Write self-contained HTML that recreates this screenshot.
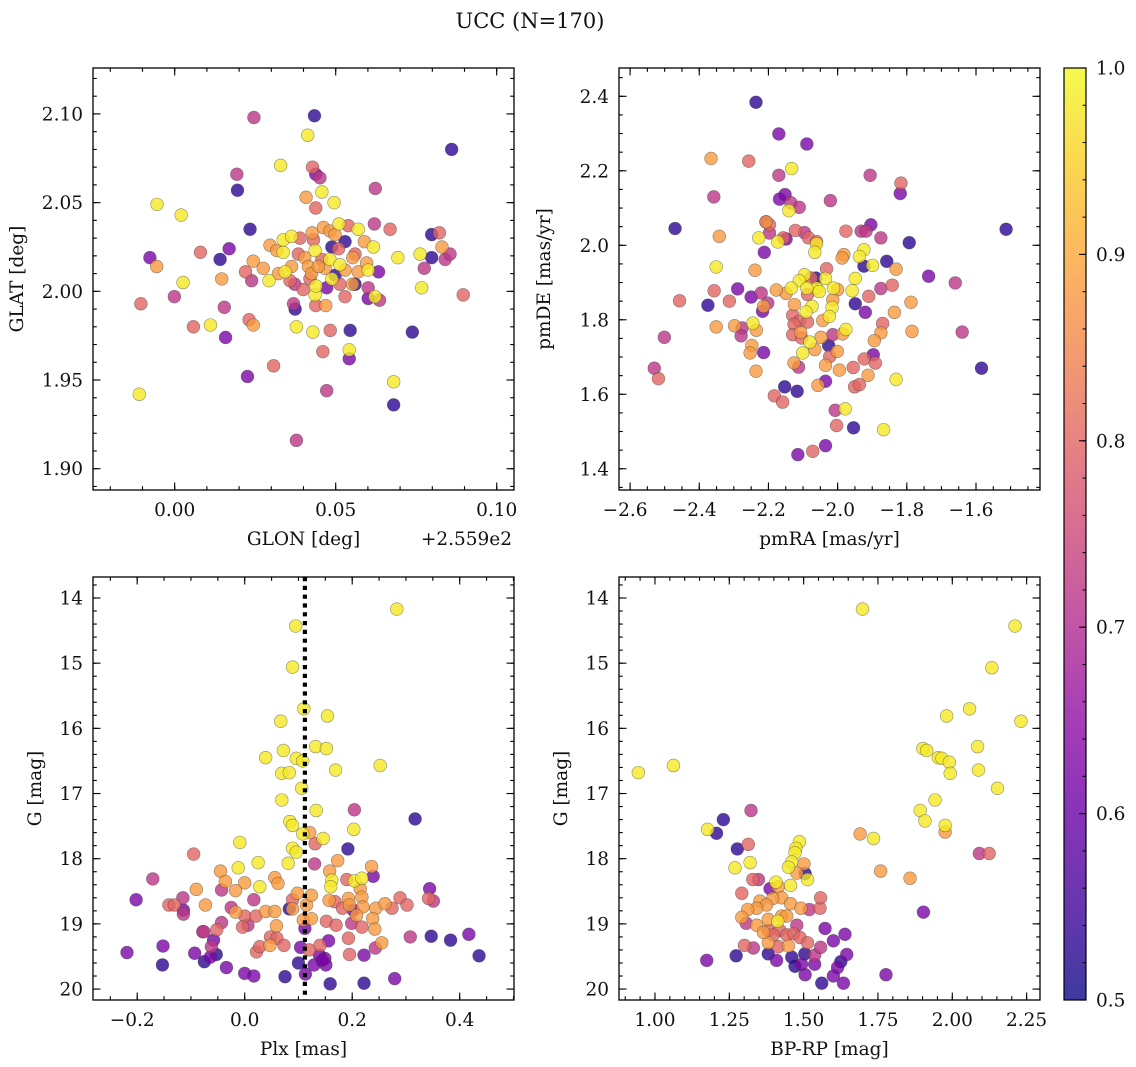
<!DOCTYPE html>
<html><head><meta charset="utf-8"><style>
html,body{margin:0;padding:0;background:#fff;}
svg{display:block;font-family:"DejaVu Serif","Liberation Serif",serif;}
</style></head><body>
<svg id="fig" width="1136" height="1067" viewBox="0 0 1136 1067" xmlns="http://www.w3.org/2000/svg">
<rect width="1136" height="1067" fill="#fff"/>
<text x="530" y="28" font-size="21" text-anchor="middle" fill="#111">UCC (N=170)</text>
</svg>
<script>
// ---------- Panel 1: GLON (offset +255.9) vs GLAT ----------
const p1Glon=[0.0246,0.0434,0.0413,0.0860,0.0329,0.0428,0.0438,0.0451,0.0193,0.0195,
0.0623,0.0457,0.0408,0.0495,0.0438,-0.0055,0.0020,0.0234,0.0620,0.0669,
0.0798,0.0822,0.0830,0.0798,0.0840,0.0855,0.0762,0.0693,0.0775,0.0767,
0.0896,-0.0077,-0.0056,0.0080,0.0141,0.0169,0.0026,-0.0105,-0.0001,0.0146,
0.0154,0.0058,0.0111,0.0158,0.0231,0.0244,0.0307,0.0226,-0.0110,0.0378,
0.0472,0.0680,0.0680,0.0738,0.0545,0.0542,0.0542,0.0483,0.0429,0.0378,
0.0460,0.0369,0.0374,0.0438,0.0469,0.0436,0.0439,0.0622,0.0601,0.0636,
0.0633,0.0601,0.0529,0.0552,0.0472,0.0358,0.0399,0.0239,0.0220,0.0244,
0.0275,0.0293,0.0322,0.0343,0.0363,0.0337,0.0337,0.0363,0.0296,0.0317,
0.0384,0.0404,0.0389,0.0427,0.0431,0.0436,0.0462,0.0482,0.0510,0.0498,
0.0539,0.0570,0.0529,0.0488,0.0509,0.0589,0.0617,0.0560,0.0553,0.0482,
0.0457,0.0415,0.0467,0.0513,0.0529,0.0498,0.0488,0.0513,0.0570,0.0601,
0.0596,0.0560,0.0420,0.0425,0.0373,0.0446];
const p1Glat=[2.098,2.099,2.088,2.080,2.071,2.070,2.066,2.064,2.066,2.057,
2.058,2.056,2.053,2.050,2.047,2.049,2.043,2.035,2.038,2.035,
2.032,2.033,2.025,2.019,2.018,2.021,2.021,2.019,2.013,2.002,
1.998,2.019,2.014,2.022,2.018,2.024,2.005,1.993,1.997,2.007,
1.991,1.980,1.981,1.974,1.984,1.981,1.958,1.952,1.942,1.916,
1.944,1.949,1.936,1.977,1.978,1.967,1.962,1.978,1.977,1.980,
1.966,1.993,1.990,1.992,1.992,1.998,2.003,1.997,1.996,1.995,
2.011,2.002,1.997,2.004,2.002,2.006,2.001,2.006,2.011,2.017,
2.013,2.006,2.010,2.011,2.014,2.022,2.029,2.031,2.026,2.023,
2.021,2.019,2.030,2.033,2.029,2.023,2.036,2.034,2.038,2.032,
2.037,2.035,2.028,2.025,2.024,2.028,2.025,2.021,2.019,2.018,
2.018,2.014,2.013,2.015,2.012,2.009,2.007,2.004,2.011,2.012,
2.016,2.004,2.007,2.010,2.004,2.014];
const p1Prob=[.72,.53,.98,.53,.98,.80,.62,.72,.72,.53,
.72,.98,.88,.98,.80,.98,.98,.53,.72,.80,
.53,.80,.88,.53,.72,.72,.98,.98,.72,.98,
.80,.62,.88,.80,.53,.62,.98,.80,.72,.88,
.72,.80,.98,.62,.80,.88,.80,.62,.98,.72,
.72,.98,.53,.53,.53,.98,.62,.80,.98,.98,
.80,.72,.53,.80,.88,.98,.98,.98,.62,.72,
.62,.72,.80,.88,.62,.80,.80,.72,.80,.88,
.88,.98,.88,.98,.88,.98,.98,.98,.88,.88,
.80,.88,.80,.88,.80,.98,.88,.88,.98,.88,
.80,.98,.53,.53,.80,.88,.98,.80,.88,.98,
.80,.88,.88,.98,.88,.53,.98,.80,.88,.98,
.88,.53,.80,.88,.72,.88];

// ---------- Panel 2: pmRA vs pmDE ----------
const p2PmRA=[-2.236,-2.170,-2.089,-2.366,-2.257,-2.133,-2.170,-1.906,-1.817,-1.819,
-2.358,-2.152,-2.168,-2.135,-2.111,-2.141,-2.021,-2.470,-1.513,-2.207,
-2.207,-2.197,-2.342,-2.228,-2.197,-2.149,-2.122,-2.096,-2.173,-2.157,
-2.084,-2.061,-2.061,-2.066,-1.976,-1.932,-1.918,-1.904,-1.875,-1.793,
-2.212,-1.982,-1.987,-1.924,-1.937,-1.924,-1.899,-1.858,-1.831,-2.351,
-2.239,-2.032,-1.737,-1.660,-1.842,-1.875,-1.949,-1.958,-2.096,-2.111,
-2.077,-2.063,-2.035,-2.012,-2.000,-2.014,-2.016,-2.024,-2.043,-2.061,
-2.053,-2.089,-2.087,-2.074,-2.091,-2.125,-2.134,-2.149,-2.177,-2.357,
-2.289,-2.457,-2.375,-2.313,-2.250,-2.221,-2.214,-2.217,-2.202,-1.949,
-1.910,-1.920,-1.788,-1.836,-2.501,-2.351,-2.298,-2.276,-2.245,-2.235,
-2.279,-2.130,-2.111,-2.087,-2.126,-2.130,-2.107,-2.104,-2.080,-2.048,
-2.014,-2.026,-1.976,-1.986,-1.870,-1.875,-1.894,-1.785,-1.640,-2.248,
-2.253,-2.214,-2.101,-2.066,-2.001,-2.023,-2.035,-2.126,-2.113,-2.236,
-1.897,-1.923,-1.891,-1.955,-1.995,-1.912,-1.831,-1.584,-2.530,-2.518,
-2.035,-2.057,-2.153,-2.117,-2.183,-2.159,-1.951,-1.937,-2.007,-1.978,
-2.003,-1.954,-1.867,-2.035,-2.072,-2.115];
const p2PmDE=[2.384,2.299,2.272,2.233,2.226,2.206,2.188,2.188,2.167,2.139,
2.130,2.136,2.124,2.114,2.102,2.093,2.120,2.045,2.043,2.063,
2.063,2.055,2.024,2.020,2.033,2.017,2.040,2.034,2.009,2.020,
2.020,2.010,2.004,1.981,2.038,2.038,2.038,2.055,2.020,2.007,
1.981,1.975,1.966,1.988,1.970,1.944,1.946,1.957,1.936,1.942,
1.933,1.937,1.917,1.899,1.893,1.884,1.911,1.878,1.921,1.905,
1.912,1.912,1.911,1.885,1.881,1.854,1.833,1.809,1.798,1.885,
1.876,1.885,1.868,1.836,1.821,1.841,1.885,1.871,1.880,1.878,
1.883,1.851,1.839,1.850,1.861,1.872,1.836,1.823,1.845,1.843,
1.863,1.820,1.847,1.820,1.753,1.781,1.784,1.778,1.791,1.772,
1.757,1.812,1.796,1.794,1.788,1.760,1.766,1.751,1.740,1.753,
1.760,1.731,1.774,1.762,1.790,1.765,1.744,1.769,1.767,1.731,
1.711,1.712,1.711,1.720,1.715,1.701,1.678,1.684,1.673,1.662,
1.706,1.695,1.684,1.672,1.665,1.651,1.640,1.670,1.670,1.642,
1.635,1.624,1.620,1.608,1.596,1.579,1.620,1.626,1.557,1.561,
1.516,1.510,1.505,1.462,1.447,1.438];
const p2Prob=[.53,.62,.62,.88,.80,.98,.72,.72,.80,.62,
.72,.62,.62,.72,.72,.98,.72,.53,.53,.62,
.88,.80,.88,.98,.72,.62,.80,.72,.98,.80,
.80,.80,.98,.98,.80,.72,.72,.62,.72,.53,
.62,.88,.88,.98,.98,.53,.98,.53,.88,.98,
.88,.80,.62,.72,.80,.72,.98,.98,.98,.98,
.80,.53,.98,.98,.88,.88,.98,.98,.88,.98,
.98,.98,.80,.98,.98,.88,.98,.88,.88,.80,
.62,.80,.53,.80,.62,.72,.88,.62,.72,.53,
.80,.62,.88,.88,.72,.88,.88,.72,.98,.88,
.72,.80,.80,.80,.80,.80,.88,.80,.98,.88,
.72,.53,.98,.88,.80,.88,.88,.88,.72,.88,
.88,.62,.98,.88,.88,.80,.88,.88,.72,.88,
.62,.80,.80,.80,.88,.88,.98,.53,.72,.80,
.62,.88,.53,.53,.80,.80,.80,.80,.72,.98,
.80,.53,.98,.62,.80,.62];

// ---------- Panel 3: Plx vs G ----------
const p3Plx=[0.283,0.095,0.089,0.110,0.154,0.067,0.132,0.152,0.039,0.072,
0.096,0.108,0.252,0.169,0.069,0.083,0.106,0.069,0.133,0.204,
0.317,0.084,0.089,0.203,0.108,0.121,0.146,-0.009,0.089,0.096,
0.131,0.192,-0.095,0.130,0.081,0.025,-0.012,0.173,0.236,-0.045,
0.158,-0.171,-0.036,0.000,0.056,0.062,0.028,0.162,0.160,0.190,
0.204,0.218,0.239,0.215,-0.090,-0.043,-0.017,0.344,-0.202,-0.141,
-0.131,-0.115,-0.073,-0.114,-0.114,-0.025,-0.017,0.017,0.039,0.056,
0.083,0.089,0.098,0.089,0.115,0.124,0.157,0.168,0.182,0.193,
0.195,0.202,0.218,0.220,0.244,0.261,0.274,0.289,0.302,0.342,
0.351,0.208,0.238,0.000,0.021,0.109,0.124,0.152,0.170,0.199,
0.218,0.242,0.059,-0.004,0.006,-0.043,-0.052,-0.078,0.112,-0.152,
-0.219,-0.093,-0.075,-0.058,-0.062,-0.053,-0.064,-0.153,-0.034,0.000,
0.017,0.075,0.100,0.113,0.129,0.139,0.149,0.151,0.140,0.156,
0.104,0.159,0.222,0.279,0.193,0.195,0.222,0.243,0.255,0.308,
0.347,0.383,0.417,0.436,0.022,0.028,0.048,0.047,0.060,0.073,
-0.076,0.120,0.144];
const p3G=[14.17,14.43,15.06,15.70,15.81,15.89,16.28,16.31,16.45,16.34,
16.46,16.50,16.57,16.64,16.69,16.68,16.92,17.10,17.26,17.25,
17.39,17.43,17.49,17.55,17.62,17.60,17.69,17.75,17.84,17.90,
17.77,17.85,17.93,18.08,18.07,18.06,18.14,18.03,18.12,18.19,
18.19,18.31,18.35,18.37,18.29,18.38,18.43,18.33,18.43,18.32,
18.34,18.30,18.27,18.46,18.47,18.48,18.49,18.46,18.63,18.71,
18.71,18.60,18.71,18.79,18.85,18.75,18.82,18.63,18.81,18.81,
18.77,18.63,18.53,18.77,18.71,18.56,18.64,18.66,18.76,18.61,
18.71,18.79,18.59,18.74,18.76,18.69,18.76,18.60,18.71,18.61,
18.65,18.87,18.92,18.88,18.88,18.94,18.92,18.96,19.02,18.99,
19.05,19.08,19.03,19.05,19.02,18.98,19.09,19.12,19.07,19.34,
19.44,19.45,19.58,19.25,19.35,19.47,19.51,19.63,19.67,19.76,
19.80,19.81,19.60,19.77,19.63,19.48,19.53,19.63,19.33,19.26,
19.36,19.92,19.91,19.84,19.22,19.47,19.48,19.37,19.29,19.20,
19.19,19.25,19.16,19.49,19.43,19.35,19.20,19.33,19.22,19.33,
19.12,19.40,19.56];
const p3Prob=[.98,.98,.98,.98,.98,.98,.98,.98,.98,.98,
.98,.98,.98,.98,.98,.98,.98,.98,.98,.72,
.53,.98,.98,.98,.98,.88,.98,.98,.98,.98,
.80,.53,.80,.72,.98,.98,.98,.88,.88,.88,
.88,.72,.88,.88,.88,.88,.98,.98,.98,.80,
.98,.98,.62,.88,.88,.72,.88,.62,.62,.80,
.80,.72,.88,.62,.72,.72,.88,.72,.88,.88,
.53,.80,.88,.88,.88,.88,.88,.80,.80,.88,
.88,.62,.88,.88,.88,.88,.80,.80,.80,.80,
.72,.88,.88,.80,.80,.88,.88,.80,.80,.72,
.80,.88,.88,.80,.72,.72,.80,.72,.62,.62,
.62,.62,.53,.62,.72,.53,.62,.53,.62,.62,
.62,.53,.53,.62,.62,.62,.62,.62,.80,.62,
.62,.53,.53,.62,.80,.80,.62,.72,.88,.72,
.53,.53,.62,.53,.80,.80,.80,.88,.80,.80,
.72,.80,.62];
const p3PlxLine=[0.112];

// ---------- Panel 4: BP-RP vs G ----------
const p4BpRp=[1.698,2.211,2.133,2.058,1.981,2.231,1.901,1.914,2.085,1.953,
1.965,1.990,1.993,2.088,2.152,0.944,1.062,1.942,1.892,1.908,
1.976,1.976,1.690,1.735,2.091,2.124,1.759,1.858,1.903,1.777,
1.323,1.230,1.177,1.207,1.277,1.314,1.269,1.320,1.174,1.273,
1.292,1.329,1.348,1.486,1.474,1.471,1.460,1.449,1.501,1.505,
1.513,1.477,1.456,1.407,1.387,1.415,1.426,1.396,1.353,1.375,
1.342,1.312,1.292,1.307,1.342,1.381,1.413,1.426,1.443,1.456,
1.491,1.519,1.555,1.557,1.477,1.381,1.420,1.443,1.466,1.488,
1.513,1.381,1.415,1.449,1.381,1.409,1.460,1.504,1.537,1.557,
1.572,1.600,1.639,1.645,1.625,1.614,1.600,1.634,1.561,1.505,
1.471,1.493,1.537,1.301,1.331,1.365,1.398];
const p4G=[14.17,14.43,15.07,15.70,15.81,15.89,16.31,16.34,16.28,16.45,
16.46,16.52,16.69,16.64,16.92,16.68,16.57,17.10,17.26,17.42,
17.49,17.59,17.62,17.69,17.92,17.92,18.19,18.30,18.82,19.78,
17.26,17.40,17.55,17.61,17.85,17.78,18.14,18.06,19.56,19.49,
18.53,18.32,18.32,17.74,17.84,17.91,18.05,18.13,18.08,18.23,
18.32,18.22,18.41,18.36,18.46,18.43,18.60,18.61,18.65,18.71,
18.76,18.78,18.90,18.99,19.02,18.93,18.96,18.88,18.88,18.69,
18.76,18.78,18.76,18.60,19.02,19.10,19.10,19.17,19.15,19.21,
19.29,19.29,19.35,19.34,19.46,19.56,19.51,19.46,19.48,19.36,
19.07,19.26,19.16,19.47,19.58,19.67,19.80,19.91,19.91,19.78,
19.65,19.62,19.62,19.33,19.37,19.13,19.17];
const p4Prob=[.98,.98,.98,.98,.98,.98,.98,.98,.98,.98,
.98,.98,.98,.98,.98,.98,.98,.98,.98,.98,
.98,.88,.88,.98,.72,.80,.88,.88,.62,.62,
.72,.53,.98,.53,.53,.80,.98,.98,.62,.53,
.80,.80,.72,.98,.98,.98,.98,.98,.88,.53,
.98,.88,.98,.98,.62,.88,.88,.88,.88,.88,
.88,.88,.88,.72,.88,.88,.98,.88,.88,.88,
.88,.72,.80,.80,.72,.80,.80,.80,.80,.80,
.80,.88,.80,.88,.53,.62,.53,.53,.72,.72,
.62,.62,.62,.62,.53,.62,.62,.62,.53,.62,
.53,.62,.62,.80,.72,.88,.80];

// ---------- Colorbar ----------
const cbTicks=[0.5,0.6,0.7,0.8,0.9,1.0];
const cbTickLabels=["0.5","0.6","0.7","0.8","0.9","1.0"];

const NS="http://www.w3.org/2000/svg";
const svg=document.getElementById('fig');
const PL=[[0,"#0d0887"],[0.1,"#41049d"],[0.2,"#6a00a8"],[0.3,"#8f0da4"],[0.4,"#b12a90"],[0.5,"#cc4778"],[0.6,"#e16462"],[0.7,"#f2844b"],[0.8,"#fca636"],[0.9,"#fcce25"],[1,"#f0f921"]];
function hx(h){return [parseInt(h.substr(1,2),16),parseInt(h.substr(3,2),16),parseInt(h.substr(5,2),16)];}
function plasma(t){t=Math.max(0,Math.min(1,t));for(let i=0;i<PL.length-1;i++){if(t<=PL[i+1][0]){const f=(t-PL[i][0])/(PL[i+1][0]-PL[i][0]);const a=hx(PL[i][1]),b=hx(PL[i+1][1]);return 'rgb('+a.map((v,k)=>Math.round(v+(b[k]-v)*f)).join(',')+')';}}return PL[PL.length-1][1];}
function mk(tag,attrs,parent){const e=document.createElementNS(NS,tag);for(const k in attrs)e.setAttribute(k,attrs[k]);(parent||svg).appendChild(e);return e;}
function txt(s,attrs,parent){const e=mk('text',attrs,parent);e.textContent=s;return e;}
const FS=18.5;

function panel(cfg){
  const g=mk('g',{});
  
  
  const X=v=>cfg.x0+(v-cfg.xmin)/(cfg.xmax-cfg.xmin)*(cfg.x1-cfg.x0);
  const Y=cfg.inv?(v=>cfg.y0+(v-cfg.ymin)/(cfg.ymax-cfg.ymin)*(cfg.y1-cfg.y0)):(v=>cfg.y1-(v-cfg.ymin)/(cfg.ymax-cfg.ymin)*(cfg.y1-cfg.y0));
  const clipId='clip-'+cfg.name;
  const cp=mk('clipPath',{id:clipId},g);mk('rect',{x:cfg.x0,y:cfg.y0,width:cfg.x1-cfg.x0,height:cfg.y1-cfg.y0},cp);
  const pts=mk('g',{'clip-path':'url(#'+clipId+')'},g);
  
  
  const n=Math.min(cfg.xs.length,cfg.ys.length,cfg.ps.length);
  const idx=[];for(let i=0;i<n;i++)idx.push(i);
  idx.sort((a,b)=>cfg.ps[a]-cfg.ps[b]);
  idx.forEach(i=>{const c=mk('circle',{cx:X(cfg.xs[i]),cy:Y(cfg.ys[i]),r:6.4,fill:plasma((cfg.ps[i]-0.5)/0.5),'fill-opacity':0.8,stroke:'rgba(60,60,60,0.55)','stroke-width':0.6},pts);
    
    });
  if(cfg.vline){cfg.vline.forEach(v=>{const l=mk('line',{x1:X(v),x2:X(v),y1:cfg.y0,y2:cfg.y1,stroke:'#000','stroke-width':4.2,'stroke-dasharray':'4.2 4.6'},g);
    
    });}
  const fr=mk('rect',{x:cfg.x0,y:cfg.y0,width:cfg.x1-cfg.x0,height:cfg.y1-cfg.y0,fill:'none',stroke:'#000','stroke-width':1.3},g);
  
  
  const tk=mk('g',{stroke:'#000','stroke-width':1.1},g);
  const eps=1e-9;
  for(let v=Math.ceil(cfg.xmin/cfg.xminor)*cfg.xminor;v<=cfg.xmax+eps;v+=cfg.xminor){const px=X(v);mk('line',{x1:px,x2:px,y1:cfg.y1,y2:cfg.y1-3.8},tk);mk('line',{x1:px,x2:px,y1:cfg.y0,y2:cfg.y0+3.8},tk);}
  for(let v=Math.ceil(cfg.ymin/cfg.yminor-eps)*cfg.yminor;v<=cfg.ymax+eps;v+=cfg.yminor){const py=Y(v);mk('line',{y1:py,y2:py,x1:cfg.x0,x2:cfg.x0+3.8},tk);mk('line',{y1:py,y2:py,x1:cfg.x1,x2:cfg.x1-3.8},tk);}
  cfg.xt.forEach((v,k)=>{const px=X(v);mk('line',{x1:px,x2:px,y1:cfg.y1,y2:cfg.y1-7.5},tk);mk('line',{x1:px,x2:px,y1:cfg.y0,y2:cfg.y0+7.5},tk);
    const t=txt(cfg.xl[k],{x:px-(cfg.xl[k][0]==='\u2212'?5:0),y:cfg.y1+26,'font-size':FS,'text-anchor':'middle',fill:'#111'},g);
    
    });
  cfg.yt.forEach((v,k)=>{const py=Y(v);mk('line',{y1:py,y2:py,x1:cfg.x0,x2:cfg.x0+7.5},tk);mk('line',{y1:py,y2:py,x1:cfg.x1,x2:cfg.x1-7.5},tk);
    const t=txt(cfg.yl[k],{x:cfg.x0-10,y:py+6.5,'font-size':FS,'text-anchor':'end',fill:'#111'},g);
    
    });
  const xt=txt(cfg.xlabel,{x:(cfg.x0+cfg.x1)/2,y:cfg.y1+55,'font-size':FS,'text-anchor':'middle',fill:'#111'},g);
  
  
  const yt=txt(cfg.ylabel,{x:0,y:0,'font-size':FS,'text-anchor':'middle',fill:'#111',transform:'translate('+cfg.ylx+','+((cfg.y0+cfg.y1)/2)+') rotate(-90)'},g);
  
  
  if(cfg.offset){const o=txt(cfg.offset,{x:cfg.x1-2,y:cfg.y1+55,'font-size':FS,'text-anchor':'end',fill:'#111'},g);
    
    }
}
const M='\u2212';
panel({name:'glon-glat-panel',x0:93,x1:514,y0:68,y1:490,xmin:-0.02537,xmax:0.10537,ymin:1.888,ymax:2.1259,
  xs:p1Glon,ys:p1Glat,ps:p1Prob,xt:[0,0.05,0.10],xl:['0.00','0.05','0.10'],xminor:0.01,
  yt:[1.90,1.95,2.00,2.05,2.10],yl:['1.90','1.95','2.00','2.05','2.10'],yminor:0.01,
  xlabel:'GLON [deg]',ylabel:'GLAT [deg]',ylx:23,offset:'+2.559e2'});
panel({name:'pm-panel',x0:619,x1:1040,y0:68,y1:490,xmin:-2.632,xmax:-1.415,ymin:1.343,ymax:2.476,
  xs:p2PmRA,ys:p2PmDE,ps:p2Prob,xt:[-2.6,-2.4,-2.2,-2.0,-1.8,-1.6],xl:[M+'2.6',M+'2.4',M+'2.2',M+'2.0',M+'1.8',M+'1.6'],xminor:0.05,
  yt:[1.4,1.6,1.8,2.0,2.2,2.4],yl:['1.4','1.6','1.8','2.0','2.2','2.4'],yminor:0.05,
  xlabel:'pmRA [mas/yr]',ylabel:'pmDE [mas/yr]',ylx:550});
panel({name:'plx-g-panel',x0:93,x1:514,y0:577,y1:1000,xmin:-0.2822,xmax:0.501,ymin:13.678,ymax:20.168,inv:true,
  xs:p3Plx,ys:p3G,ps:p3Prob,vline:p3PlxLine,xt:[-0.2,0,0.2,0.4],xl:[M+'0.2','0.0','0.2','0.4'],xminor:0.05,
  yt:[14,15,16,17,18,19,20],yl:['14','15','16','17','18','19','20'],yminor:0.2,
  xlabel:'Plx [mas]',ylabel:'G [mag]',ylx:41});
panel({name:'cmd-panel',x0:619,x1:1040,y0:577,y1:1000,xmin:0.879,xmax:2.295,ymin:13.678,ymax:20.168,inv:true,
  xs:p4BpRp,ys:p4G,ps:p4Prob,xt:[1.0,1.25,1.5,1.75,2.0,2.25],xl:['1.00','1.25','1.50','1.75','2.00','2.25'],xminor:0.05,
  yt:[14,15,16,17,18,19,20],yl:['14','15','16','17','18','19','20'],yminor:0.2,
  xlabel:'BP-RP [mag]',ylabel:'G [mag]',ylx:567});

(function(){
  const x0=1064,x1=1086,y0=68,y1=1000;
  const defs=mk('defs',{});
  const lg=mk('linearGradient',{id:'cbgrad',x1:0,y1:1,x2:0,y2:0},defs);
  PL.forEach(s=>mk('stop',{offset:s[0],'stop-color':s[1]},lg));
  const g=mk('g',{});
  
  
  mk('rect',{x:x0,y:y0,width:x1-x0,height:y1-y0,fill:'url(#cbgrad)','fill-opacity':0.8},g);
  mk('rect',{x:x0,y:y0,width:x1-x0,height:y1-y0,fill:'none',stroke:'#000','stroke-width':1.2},g);
  const Yc=v=>y1-(v-0.5)/0.5*(y1-y0);
  for(let v=0.5;v<=1.0001;v+=0.02){const py=Yc(v);mk('line',{x1:x1,x2:x1-3.5,y1:py,y2:py,stroke:'#000','stroke-width':1},g);}
  cbTicks.forEach((v,k)=>{const py=Yc(v);mk('line',{x1:x1,x2:x1-7,y1:py,y2:py,stroke:'#000','stroke-width':1.1},g);
    const t=txt(cbTickLabels[k],{x:1096,y:py+6.5,'font-size':FS,fill:'#111'},g);
    
    });
})();
</script>
</body></html>
